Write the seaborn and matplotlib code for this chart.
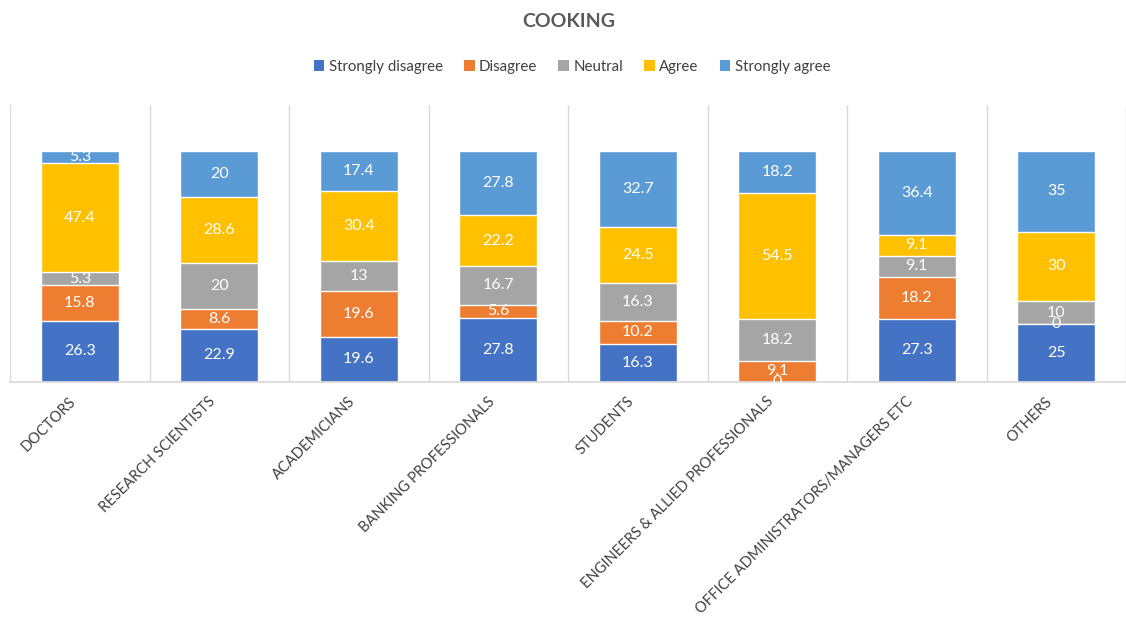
import numpy as np
import pandas as pd
import matplotlib
matplotlib.use("Agg")
import matplotlib.pyplot as plt
import matplotlib.transforms as mtransforms
import seaborn as sns
from matplotlib.patches import Patch

categories = [
    "DOCTORS",
    "RESEARCH SCIENTISTS",
    "ACADEMICIANS",
    "BANKING PROFESSIONALS",
    "STUDENTS",
    "ENGINEERS & ALLIED PROFESSIONALS",
    "OFFICE ADMINISTRATORS/MANAGERS ETC",
    "OTHERS",
]
series_names = ["Strongly disagree", "Disagree", "Neutral", "Agree", "Strongly agree"]
strongly_disagree = [26.3, 22.9, 19.6, 27.8, 16.3, 0, 27.3, 25]
disagree = [15.8, 8.6, 19.6, 5.6, 10.2, 9.1, 18.2, 0]
neutral = [5.3, 20, 13, 16.7, 16.3, 18.2, 9.1, 10]
agree = [47.4, 28.6, 30.4, 22.2, 24.5, 54.5, 9.1, 30]
strongly_agree = [5.3, 20, 17.4, 27.8, 32.7, 18.2, 36.4, 35]

colors = ["#4472C4", "#ED7D31", "#A5A5A5", "#FFC000", "#5B9BD5"]

sns.set_theme(style="white")
plt.rcParams["font.family"] = ["Lato", "DejaVu Sans"]

values = np.array([strongly_disagree, disagree, neutral, agree, strongly_agree])
cum = np.cumsum(values, axis=0)

fig = plt.figure(figsize=(11.26, 6.28), dpi=100)
ax = fig.add_axes([0.009, 0.392, 0.991, 0.441])

# Draw cumulative totals from the top layer down so each layer shows its own segment
for i in range(len(series_names) - 1, -1, -1):
    df = pd.DataFrame({"cat": categories, "val": cum[i]})
    sns.barplot(data=df, x="cat", y="val", color=colors[i], width=0.56,
                saturation=1, ax=ax, order=categories)

# Segment value labels
for i in range(len(series_names)):
    for j in range(len(categories)):
        bottom = cum[i][j] - values[i][j]
        yc = bottom + values[i][j] / 2
        v = values[i][j]
        ax.text(j, yc, f"{v:g}", ha="center", va="center", color="white", fontsize=11.5)

ax.set_ylim(0, 120)
ax.set_xlim(-0.5, len(categories) - 0.5)
ax.set_yticks([])
ax.set_xlabel("")
ax.set_ylabel("")

# Category separators
ax.set_xticks(np.arange(-0.5, len(categories), 1), minor=True)
ax.grid(True, which="minor", axis="x", color="#D9D9D9", linewidth=1)
ax.grid(False, which="major")
ax.tick_params(axis="x", which="both", length=0)
ax.set_xticks(range(len(categories)))
ax.set_xticklabels(categories, rotation=45, ha="right", rotation_mode="anchor",
                   fontsize=10.5, color="#404040")
ax.tick_params(axis="x", pad=9)
shift = mtransforms.ScaledTranslation(-0.11, 0, fig.dpi_scale_trans)
for lab in ax.get_xticklabels():
    lab.set_transform(lab.get_transform() + shift)
for s in ["top", "left", "right"]:
    ax.spines[s].set_visible(False)
ax.spines["bottom"].set_color("#D9D9D9")
ax.set_axisbelow(True)

fig.text(0.505, 0.966, "COOKING", ha="center", va="center", fontsize=14,
         fontweight="bold", color="#595959")

handles = [Patch(facecolor=c, edgecolor="none") for c in colors]
fig.legend(handles, series_names, loc="center", bbox_to_anchor=(0.508, 0.894),
           ncol=5, frameon=False, fontsize=10.8, handlelength=0.7, handleheight=0.7,
           handletextpad=0.3, columnspacing=1.4, labelcolor="#404040")

fig.savefig("out.png", dpi=100)
